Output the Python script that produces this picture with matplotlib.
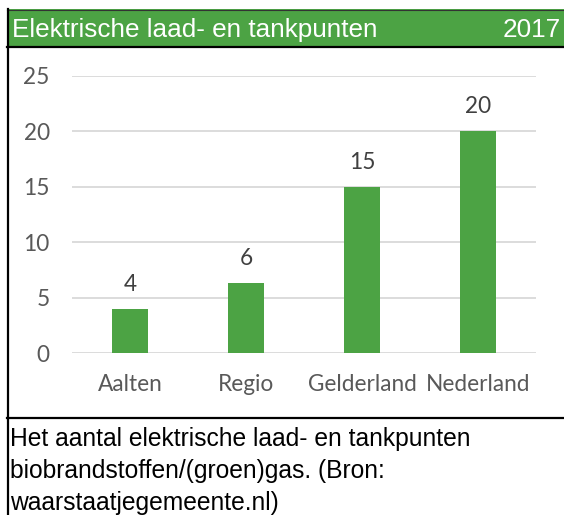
import matplotlib
matplotlib.use('Agg')
import matplotlib.pyplot as plt
from matplotlib.patches import Rectangle
from matplotlib.lines import Line2D

# --- data ---
categories = ['Aalten', 'Regio', 'Gelderland', 'Nederland']
values = [4.0, 6.3, 15.0, 20.0]
yticks = [0, 5, 10, 15, 20, 25]
title_left = 'Elektrische laad- en tankpunten'
title_right = '2017'
caption_lines = ['Het aantal elektrische laad- en tankpunten',
                 'biobrandstoffen/(groen)gas. (Bron:',
                 'waarstaatjegemeente.nl)']

GREEN = '#4ca344'
W, H = 564, 515

fig = plt.figure(figsize=(W / 100, H / 100), dpi=100)

def fx(px):
    return px / W

def fy(py):
    return 1 - py / H

# title band and frame
fig.patches.append(Rectangle((fx(7), fy(46.5)), 1 - fx(7), fy(9.5) - fy(46.5),
                             transform=fig.transFigure, facecolor=GREEN,
                             edgecolor='none', zorder=0))
fig.lines.append(Line2D([fx(7), 1], [fy(9.5), fy(9.5)], transform=fig.transFigure,
                        color='#333333', lw=0.8))
fig.lines.append(Line2D([fx(7), 1], [fy(46.5), fy(46.5)], transform=fig.transFigure,
                        color='black', lw=1.6))
fig.lines.append(Line2D([fx(7.5), fx(7.5)], [fy(9), 0], transform=fig.transFigure,
                        color='black', lw=1.6))
fig.lines.append(Line2D([fx(7), 1], [fy(418), fy(418)], transform=fig.transFigure,
                        color='black', lw=1.6))

fig.text(fx(12), fy(37), title_left, color='white', fontsize=18.8,
         family='Liberation Sans', va='baseline', ha='left')
fig.text(fx(561), fy(37), title_right, color='white', fontsize=18.8,
         family='Liberation Sans', va='baseline', ha='right')

for i, line in enumerate(caption_lines):
    fig.text(fx(10), fy(446 + i * 32), line, color='black', fontsize=17.7,
             family='Liberation Sans', va='baseline', ha='left')

# chart
ax = fig.add_axes([fx(72), fy(353), fx(536) - fx(72), fy(75.7) - fy(353)])
x = list(range(len(categories)))
bars = ax.bar(x, values, width=0.31, color=GREEN, zorder=2)
ax.set_xlim(-0.5, len(categories) - 0.5)
ax.set_ylim(0, 25)
ax.set_yticks(yticks)
ax.set_xticks(x)
ax.set_xticklabels(categories)
ax.grid(axis='y', color='#d9d9d9', lw=1.3, zorder=0)
ax.set_axisbelow(True)
for s in ax.spines.values():
    s.set_visible(False)
ax.tick_params(length=0, colors='#595959', labelsize=16.3)
ax.tick_params(axis='y', pad=16)
ax.tick_params(axis='x', pad=15)
for lab in ax.get_xticklabels() + ax.get_yticklabels():
    lab.set_family('Lato')

for b, v in zip(bars, values):
    ax.annotate(f'{v:.0f}', (b.get_x() + b.get_width() / 2, v),
                xytext=(0, 13), textcoords='offset points', ha='center',
                va='baseline', color='#404040', fontsize=16.3, family='Lato')

fig.savefig('out.png', dpi=100)
